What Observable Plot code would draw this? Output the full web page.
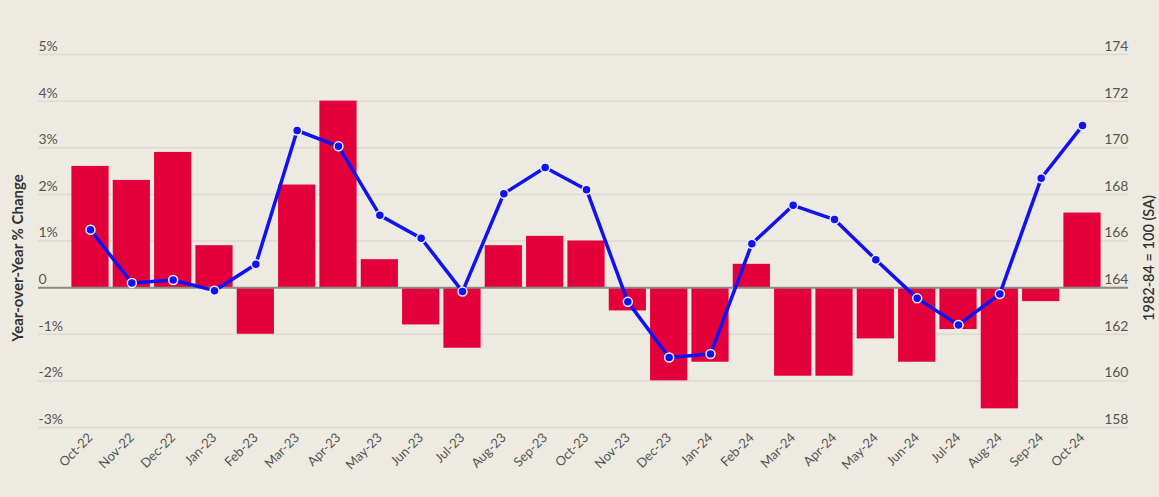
<!DOCTYPE html>
<html>
<head>
<meta charset="utf-8">
<script src="https://cdn.jsdelivr.net/npm/d3@7"></script>
<script src="https://cdn.jsdelivr.net/npm/@observablehq/plot@0.6"></script>
<style>
  html, body { margin: 0; padding: 0; background: #edebe1; }
  #chart svg { display: block; }
</style>
</head>
<body>
<div id="chart"></div>
<script>
const months = ["Oct-22","Nov-22","Dec-22","Jan-23","Feb-23","Mar-23","Apr-23","May-23","Jun-23","Jul-23","Aug-23","Sep-23","Oct-23","Nov-23","Dec-23","Jan-24","Feb-24","Mar-24","Apr-24","May-24","Jun-24","Jul-24","Aug-24","Sep-24","Oct-24"];
const yoyChange = [2.6, 2.3, 2.9, 0.9, -1.0, 2.2, 4.0, 0.6, -0.8, -1.3, 0.9, 1.1, 1.0, -0.5, -2.0, -1.6, 0.5, -1.9, -1.9, -1.1, -1.6, -0.9, -2.6, -0.3, 1.6];
const indexValues = [166.48, 164.2, 164.33, 163.87, 165.0, 170.74, 170.06, 167.1, 166.12, 163.83, 168.03, 169.15, 168.2, 163.39, 161.0, 161.15, 165.88, 167.53, 166.92, 165.2, 163.54, 162.4, 163.73, 168.69, 170.95];
const leftTicks = [-3, -2, -1, 0, 1, 2, 3, 4, 5];
const leftTickLabels = ["-3%", "-2%", "-1%", "0", "1%", "2%", "3%", "4%", "5%"];
const rightTicks = [158, 160, 162, 164, 166, 168, 170, 172, 174];
const leftTitle = "Year-over-Year % Change";
const rightTitle = "1982-84 = 100 (SA)";

// right axis maps linearly onto left: 164 <-> 0%, 2 index pts per 1%
const toLeft = v => (v - 164) / 2;

const data = months.map((m, i) => ({month: m, yoy: yoyChange[i], idx: indexValues[i]}));
const leftLabels = leftTicks.map((t, i) => ({y: t, label: leftTickLabels[i]}));
const rightLabels = rightTicks.map(t => ({y: toLeft(t), label: String(t)}));

const chart = Plot.plot({
  width: 1159,
  height: 497,
  marginLeft: 38,
  marginRight: 25,
  marginTop: 54,
  marginBottom: 70,
  style: {fontFamily: "Lato, 'Open Sans', sans-serif", background: "#edebe1"},
  x: {type: "band", domain: months, paddingInner: 0.1, paddingOuter: 0.808, round: false, axis: null},
  y: {domain: [-3, 5], axis: null},
  marks: [
    Plot.ruleY(leftTicks.filter(t => t !== 0), {stroke: "#dddbd1", strokeWidth: 1.5, insetRight: 6}),
    Plot.barY(data, {x: "month", y: "yoy", fill: "#e4003b"}),
    Plot.ruleY([0], {stroke: "#8a8a86", strokeWidth: 2, insetRight: 6}),
    Plot.line(data, {x: "month", y: d => toLeft(d.idx), stroke: "#1212f0", strokeWidth: 3.5}),
    Plot.dot(data, {x: "month", y: d => toLeft(d.idx), r: 4.5, fill: "#1212f0", stroke: "#eeeeee", strokeWidth: 1.5}),
    Plot.text(leftLabels, {y: "y", text: "label", frameAnchor: "left", textAnchor: "start", dy: -8, fontSize: 14, fill: "#555"}),
    Plot.text(rightLabels, {y: "y", text: "label", frameAnchor: "right", textAnchor: "end", dx: -6, dy: -8, fontSize: 14, fill: "#555"}),
    Plot.axisX({domain: months, label: null, tickSize: 0, tickPadding: 8, tickRotate: -45, fontSize: 13, fill: "#555"}),
    Plot.text([leftTitle], {frameAnchor: "left", textAnchor: "middle", dx: -20, dy: 17, rotate: -90, fontSize: 15, fontWeight: "bold", fill: "#333"}),
    Plot.text([rightTitle], {frameAnchor: "right", textAnchor: "middle", dx: 15, dy: 17, rotate: -90, fontSize: 14.5, fontWeight: 600, fill: "#333"})
  ]
});
document.getElementById("chart").appendChild(chart);
</script>
</body>
</html>
